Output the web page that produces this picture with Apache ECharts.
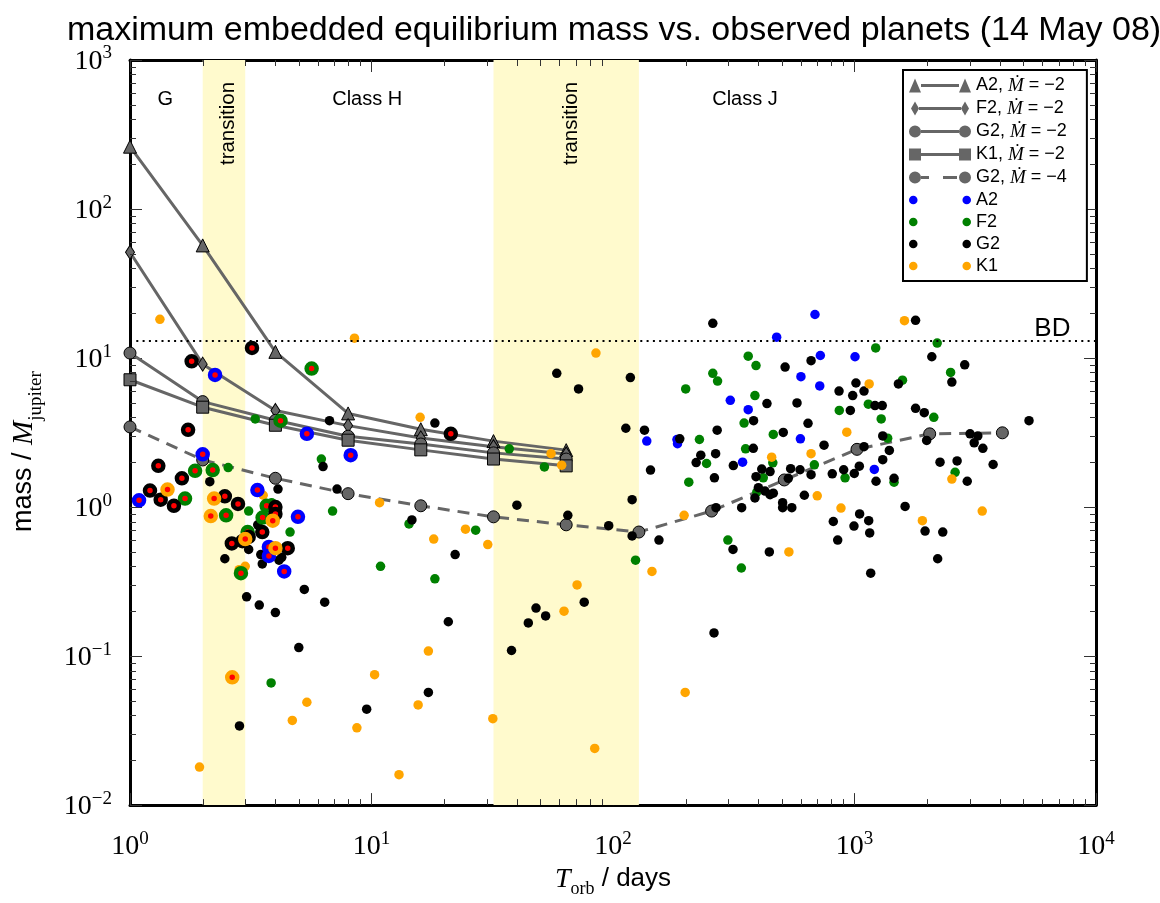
<!DOCTYPE html>
<html>
<head>
<meta charset="utf-8">
<title>maximum embedded equilibrium mass vs. observed planets</title>
<script src="https://cdn.jsdelivr.net/npm/echarts@6/dist/echarts.min.js"></script>
<style>
html, body { margin: 0; padding: 0; background: #fff; }
#chart { width: 1160px; height: 903px; }
</style>
</head>
<body>
<div id="chart"></div>
<script>
// model curves: orbital period (days) and maximum embedded mass (M_jup)
var modelT = [1, 2, 4, 8, 16, 32, 64];
var a2Model = [262, 57, 11.0, 4.25, 3.33, 2.77, 2.41];
var f2Model = [51.3, 9.1, 4.45, 3.52, 2.91, 2.54, 2.27];
var g2Model = [10.8, 5.1, 3.82, 2.99, 2.65, 2.31, 2.10];
var k1Model = [7.15, 4.68, 3.54, 2.81, 2.42, 2.10, 1.89];
var g2LowT = [1, 2, 4, 8, 16, 32, 64, 128, 256, 512, 1024, 2048, 4096];
var g2LowModel = [3.45, 2.07, 1.56, 1.23, 1.02, 0.86, 0.76, 0.68, 0.94, 1.52, 2.44, 3.10, 3.15];

// observed planets [period, mass]
var a2Planets = [[138, 2.77], [184, 2.84], [185, 2.66], [686, 19.6], [476, 13.8], [722, 10.4], [1005, 10.2],
  [600, 7.5], [718, 6.5], [306, 5.2], [363, 4.5], [597, 2.87], [344, 2.0], [1208, 1.79]];
var f2Planets = [[3.3, 3.9], [6.2, 2.1], [2.55, 1.84], [3.1, 0.94], [4.6, 0.68], [10.9, 0.40], [6.9, 0.94],
  [3.86, 1.07], [3.84, 0.066], [37.2, 2.46], [52, 1.86], [14.3, 0.77], [27, 0.70], [124, 0.44], [18.3, 0.33],
  [2200, 12.6], [1224, 11.7], [363, 10.3], [391, 8.9], [259, 7.9], [271, 7.0], [2500, 8.0], [1580, 7.1],
  [200, 6.2], [387, 5.6], [865, 4.45], [1141, 4.9], [1290, 3.9], [2130, 4.0], [349, 3.66], [228, 2.84],
  [461, 3.07], [1372, 2.9], [244, 1.96], [206, 1.47], [459, 1.98], [682, 1.92], [419, 1.57], [914, 1.57],
  [1458, 1.47], [2610, 1.71], [394, 1.26], [299, 0.60], [340, 0.39], [354, 2.46]];
var g2Planets = [[6.7, 3.8], [6.3, 1.87], [2.14, 1.48], [4.1, 1.32], [7.2, 1.32], [3.38, 0.76], [3.1, 0.52],
  [3.48, 0.48], [3.53, 0.415], [4.14, 0.44], [4.25, 0.46], [2.47, 0.45], [3.04, 0.25], [3.43, 0.22],
  [4.0, 0.196], [5.27, 0.28], [6.4, 0.23], [20.8, 0.17], [5.0, 0.114], [17.2, 0.057], [9.55, 0.044],
  [2.84, 0.034], [44.6, 0.167], [52.6, 0.186], [38, 0.109], [262, 0.143], [58.5, 7.9], [72, 6.2], [118, 7.4],
  [18.3, 3.66], [113, 3.38], [135, 3.28], [143, 1.77], [120, 1.12], [40, 1.03], [65, 0.88], [96, 0.75],
  [120, 0.64], [155, 0.60], [14.7, 0.82], [22.2, 0.48], [76, 0.23], [48, 0.21],
  [259, 17.1], [1790, 17.9], [2090, 10.2], [661, 9.6], [516, 8.7], [2860, 9.0], [2530, 6.9], [1520, 6.7],
  [1014, 6.8], [863, 6.0], [1095, 6.0], [983, 5.6], [434, 4.95], [578, 5.0], [961, 4.45], [1216, 4.8],
  [1303, 4.8], [1790, 4.6], [1945, 4.3], [5280, 3.8], [382, 3.8], [642, 3.65], [189, 2.87], [270, 3.28],
  [507, 3.17], [1309, 3.0], [3010, 3.1], [3240, 3.0], [3130, 2.7], [3400, 2.48], [1990, 2.8], [1095, 2.54],
  [748, 2.6], [1394, 2.4], [315, 1.9], [266, 2.28], [231, 2.23], [221, 1.99], [263, 1.57], [381, 2.48],
  [413, 1.8], [391, 1.6], [447, 1.73], [544, 1.81], [595, 1.78], [661, 1.65], [809, 1.67], [902, 1.78],
  [998, 1.68], [1047, 1.88], [1309, 2.08], [1228, 1.49], [1458, 1.56], [2260, 2.0], [2660, 2.04],
  [2930, 1.49], [3750, 1.93], [400, 1.35], [426, 1.28], [447, 1.21], [461, 1.24], [387, 1.15], [532, 1.56],
  [620, 1.2], [504, 1.07], [504, 0.99], [550, 0.99], [341, 0.99], [267, 0.99], [1620, 1.01], [1050, 0.90],
  [1145, 0.81], [817, 0.80], [995, 0.745], [1156, 0.67], [1960, 0.69], [2320, 0.68], [852, 0.60],
  [2210, 0.45], [1167, 0.36], [314, 0.52], [444, 0.50]];
var k1Planets = [[1.33, 18.2], [8.5, 13.6], [3.56, 1.2], [10.8, 1.07], [2.83, 0.38], [3.0, 0.40], [17.2, 0.108],
  [10.3, 0.075], [5.4, 0.049], [15.6, 0.047], [4.7, 0.037], [8.7, 0.033], [31.8, 0.038], [1.94, 0.018],
  [13, 0.016], [62.7, 0.20], [84, 0.024], [199, 0.057], [85, 10.8], [15.9, 4.0], [55.4, 2.28], [61.3, 1.91],
  [24.5, 0.71], [18.1, 0.61], [30.3, 0.56], [145, 0.37], [71, 0.30], [1610, 17.8], [1150, 6.7], [929, 3.18],
  [454, 2.16], [661, 2.28], [2530, 1.54], [701, 1.19], [197, 0.88], [879, 0.985], [3380, 0.94], [1910, 0.81],
  [535, 0.50]];

// transiting planets (red centre)
var a2Transit = [[2.25, 7.7], [5.4, 3.1], [8.2, 2.23], [2.0, 2.26], [1.09, 1.11], [3.37, 1.3], [4.96, 0.86],
  [3.76, 0.54], [3.76, 0.47], [4.35, 0.37]];
var f2Transit = [[5.65, 8.5], [4.2, 3.8], [1.86, 1.75], [2.2, 1.77], [1.69, 1.14], [2.5, 0.88], [3.68, 1.02],
  [3.54, 0.85], [3.07, 0.68], [2.88, 0.36]];
var g2Transit = [[3.2, 11.7], [1.8, 9.5], [1.74, 3.3], [1.31, 1.89], [1.64, 1.56], [1.21, 1.29], [1.34, 1.12],
  [1.52, 1.02], [2.47, 1.18], [2.8, 1.05], [4.0, 1.0], [4.0, 0.9], [3.53, 0.68], [3.1, 0.63], [2.92, 0.59],
  [2.64, 0.57], [4.5, 0.53], [21.3, 3.1]];
var k1Transit = [[1.43, 1.31], [2.23, 1.14], [2.16, 0.87], [3.9, 0.81], [3.0, 0.61], [4.0, 0.53], [2.65, 0.072]];

// regions and limits
var transitionBands = [[2, 3], [32, 128]];
var bdMass = 13;
var regionLabels = [
  {name: 'G', value: [1.4, 540]},
  {name: 'transition', value: [2.55, 375], rotate: 90},
  {name: 'Class H', value: [9.6, 540]},
  {name: 'transition', value: [67, 375], rotate: 90},
  {name: 'Class J', value: [352, 540]},
  {name: 'BD', value: [6600, 15.6], big: true}
];

// tick marks
var minorFactors = [2, 3, 4, 5, 6, 7, 8, 9];
var xDecades = [1, 10, 100, 1000];
var yDecades = [0.01, 0.1, 1, 10, 100];

var myChart = echarts.init(document.getElementById('chart'));

function pairs(xs, ys) {
  return xs.map(function(x, i) { return [x, ys[i]]; });
}

var minorTicks = [];
xDecades.forEach(function(d) {
  minorFactors.forEach(function(f) { minorTicks.push([f * d, 1, 0]); });
});
yDecades.forEach(function(d) {
  minorFactors.forEach(function(f) { minorTicks.push([1, f * d, 1]); });
});

function renderMinor(params, api) {
  var cs = params.coordSys;
  var st = {stroke: '#333', lineWidth: 1};
  if (api.value(2) === 0) {
    var x = Math.round(api.coord([api.value(0), 1])[0]) + 0.5;
    return {type: 'group', children: [
      {type: 'line', shape: {x1: x, y1: cs.y + cs.height, x2: x, y2: cs.y + cs.height - 6}, style: st},
      {type: 'line', shape: {x1: x, y1: cs.y, x2: x, y2: cs.y + 6}, style: st}
    ]};
  }
  var y = Math.round(api.coord([1, api.value(1)])[1]) + 0.5;
  return {type: 'group', children: [
    {type: 'line', shape: {x1: cs.x, y1: y, x2: cs.x + 6, y2: y}, style: st},
    {type: 'line', shape: {x1: cs.x + cs.width, y1: y, x2: cs.x + cs.width - 6, y2: y}, style: st}
  ]};
}

function powLabel(v) {
  var e = Math.round(Math.log(v) / Math.LN10);
  return '{b|10}{s|' + (e < 0 ? '\u2212' + (-e) : e) + '}';
}
var powRich = {
  b: {fontFamily: 'Liberation Serif', fontSize: 28, color: '#000', lineHeight: 32, verticalAlign: 'bottom'},
  s: {fontFamily: 'Liberation Serif', fontSize: 19, color: '#000', lineHeight: 19, verticalAlign: 'top'}
};

var gray = '#666666';
var icons = {
  tri: 'path://M0,14L6,0L12,14Z M12,5.5L50,5.5L50,8.5L12,8.5Z M50,14L56,0L62,14Z',
  dia: 'path://M6,0L10,7L6,14L2,7Z M10,5.5L52,5.5L52,8.5L10,8.5Z M56,0L60,7L56,14L52,7Z',
  circ: 'path://M0,7A6,6,0,1,0,12,7A6,6,0,1,0,0,7Z M12,5.5L50,5.5L50,8.5L12,8.5Z M50,7A6,6,0,1,0,62,7A6,6,0,1,0,50,7Z',
  sq: 'path://M0,1L12,1L12,13L0,13Z M12,5.5L50,5.5L50,8.5L12,8.5Z M50,1L62,1L62,13L50,13Z',
  dash: 'path://M0,7A6,6,0,1,0,12,7A6,6,0,1,0,0,7Z M12,5.5L20,5.5L20,8.5L12,8.5Z M34,5.5L48,5.5L48,8.5L34,8.5Z M50,7A6,6,0,1,0,62,7A6,6,0,1,0,50,7Z',
  dot: 'path://M2,7A4,4,0,1,0,10,7A4,4,0,1,0,2,7Z M52,7A4,4,0,1,0,60,7A4,4,0,1,0,52,7Z'
};
var legendText = {
  'A2 -2': '{n|A2, }{i|\u1E40}{n| = \u22122}',
  'F2 -2': '{n|F2, }{i|\u1E40}{n| = \u22122}',
  'G2 -2': '{n|G2, }{i|\u1E40}{n| = \u22122}',
  'K1 -2': '{n|K1, }{i|\u1E40}{n| = \u22122}',
  'G2 -4': '{n|G2, }{i|\u1E40}{n| = \u22124}',
  'A2': '{n|A2}', 'F2': '{n|F2}', 'G2': '{n|G2}', 'K1': '{n|K1}'
};

function modelSeries(name, xs, ys, symbol, size, dashed) {
  return {
    name: name, type: 'line', data: pairs(xs, ys), color: gray, z: 3,
    symbol: symbol, symbolSize: size, showSymbol: true,
    lineStyle: {color: gray, width: 3, type: dashed ? [12, 8] : 'solid'},
    itemStyle: {color: gray, borderColor: '#000', borderWidth: 1}
  };
}
function dotSeries(name, data, color) {
  return {name: name, type: 'scatter', data: data, color: color, z: 4,
    symbolSize: 9.5, itemStyle: {color: color, opacity: 1}};
}
function transitSeries(name, data, color) {
  return {name: name, type: 'scatter', data: data, z: 5,
    symbolSize: 10, itemStyle: {color: '#ff0000', borderColor: color, borderWidth: 4.5, opacity: 1}};
}

var option = {
  backgroundColor: '#fff',
  animation: false,
  title: {
    text: 'maximum embedded equilibrium mass vs. observed planets (14 May 08)',
    left: 62, top: 9,
    textStyle: {fontFamily: 'Liberation Sans', fontSize: 34, fontWeight: 'normal', color: '#000'}
  },
  grid: {left: 130, top: 60, width: 966, height: 753},
  legend: {
    orient: 'vertical', left: 903, top: 70,
    padding: [6, 20, 6, 6], itemGap: 4, itemWidth: 62, itemHeight: 14,
    backgroundColor: '#fff', borderColor: '#000', borderWidth: 2, borderRadius: 0,
    itemStyle: {borderWidth: 0},
    data: [
      {name: 'A2 -2', icon: icons.tri}, {name: 'F2 -2', icon: icons.dia},
      {name: 'G2 -2', icon: icons.circ}, {name: 'K1 -2', icon: icons.sq},
      {name: 'G2 -4', icon: icons.dash},
      {name: 'A2', icon: icons.dot}, {name: 'F2', icon: icons.dot},
      {name: 'G2', icon: icons.dot}, {name: 'K1', icon: icons.dot}
    ],
    formatter: function(name) { return legendText[name]; },
    textStyle: {
      rich: {
        n: {fontFamily: 'Liberation Sans', fontSize: 18, lineHeight: 18, color: '#000'},
        i: {fontFamily: 'Liberation Serif, DejaVu Serif', fontStyle: 'italic', fontSize: 19, lineHeight: 18, color: '#000'}
      }
    }
  },
  xAxis: [{
    type: 'log', logBase: 10, min: 1, max: 10000, position: 'bottom',
    axisLine: {show: true, onZero: false, lineStyle: {color: '#000', width: 3}},
    axisTick: {inside: true, length: 12, lineStyle: {color: '#333', width: 1}},
    axisLabel: {formatter: powLabel, margin: 24, rich: powRich},
    splitLine: {show: false},
    name: '{i|T}{sub|orb}{n| / days}', nameLocation: 'middle', nameGap: 60,
    nameTextStyle: {rich: {
      i: {fontFamily: 'Liberation Serif', fontStyle: 'italic', fontSize: 28, color: '#000', lineHeight: 30, verticalAlign: 'top'},
      sub: {fontFamily: 'Liberation Serif', fontSize: 18, color: '#000', lineHeight: 32, verticalAlign: 'bottom'},
      n: {fontFamily: 'Liberation Sans', fontSize: 26, color: '#000', lineHeight: 30, verticalAlign: 'top'}
    }}
  }, {
    type: 'log', logBase: 10, min: 1, max: 10000, position: 'top',
    axisLine: {show: true, onZero: false, lineStyle: {color: '#000', width: 3}},
    axisTick: {inside: true, length: 12, lineStyle: {color: '#333', width: 1}},
    axisLabel: {show: false}, splitLine: {show: false}
  }],
  yAxis: [{
    type: 'log', logBase: 10, min: 0.01, max: 1000, position: 'left',
    axisLine: {show: true, onZero: false, lineStyle: {color: '#000', width: 3}},
    axisTick: {inside: true, length: 12, lineStyle: {color: '#333', width: 1}},
    axisLabel: {formatter: powLabel, margin: 18, rich: powRich},
    splitLine: {show: false},
    name: '{n|mass / }{i|M}{sub|jupiter}', nameLocation: 'middle', nameGap: 84, nameRotate: 90,
    nameTextStyle: {padding: [0, 38, 0, 0], rich: {
      i: {fontFamily: 'Liberation Serif', fontStyle: 'italic', fontSize: 29, color: '#000', lineHeight: 30, verticalAlign: 'top'},
      sub: {fontFamily: 'Liberation Serif', fontSize: 19, color: '#000', lineHeight: 36, verticalAlign: 'bottom'},
      n: {fontFamily: 'Liberation Sans', fontSize: 27, color: '#000', lineHeight: 30, verticalAlign: 'top'}
    }}
  }, {
    type: 'log', logBase: 10, min: 0.01, max: 1000, position: 'right',
    axisLine: {show: true, onZero: false, lineStyle: {color: '#000', width: 3}},
    axisTick: {inside: true, length: 12, lineStyle: {color: '#333', width: 1}},
    axisLabel: {show: false}, splitLine: {show: false}
  }],
  series: [
    {
      name: 'bands', type: 'line', data: [], z: 1, silent: true,
      markArea: {
        silent: true,
        itemStyle: {color: '#fffacd'},
        data: transitionBands.map(function(b) { return [{xAxis: b[0]}, {xAxis: b[1]}]; })
      },
      markLine: {
        silent: true, symbol: 'none', label: {show: false},
        lineStyle: {color: '#000', width: 2.2, type: [2, 4.3]},
        data: [{yAxis: bdMass}]
      }
    },
    modelSeries('A2 -2', modelT, a2Model, 'triangle', 13, false),
    modelSeries('F2 -2', modelT, f2Model, 'diamond', [9, 14], false),
    modelSeries('G2 -2', modelT, g2Model, 'circle', 12, false),
    modelSeries('K1 -2', modelT, k1Model, 'rect', 12, false),
    modelSeries('G2 -4', g2LowT, g2LowModel, 'circle', 12, true),
    dotSeries('A2', a2Planets, '#0000ff'),
    dotSeries('F2', f2Planets, '#008000'),
    dotSeries('G2', g2Planets, '#000000'),
    dotSeries('K1', k1Planets, '#ffa500'),
    transitSeries('A2 transit', a2Transit, '#0000ff'),
    transitSeries('F2 transit', f2Transit, '#008000'),
    transitSeries('G2 transit', g2Transit, '#000000'),
    transitSeries('K1 transit', k1Transit, '#ffa500'),
    {
      name: 'labels', type: 'scatter', symbolSize: 0, z: 6, silent: true,
      itemStyle: {opacity: 1},
      data: regionLabels.map(function(r) {
        return {
          name: r.name, value: r.value,
          label: {
            show: true, position: 'inside', formatter: '{b}', rotate: r.rotate || 0, opacity: 1,
            fontFamily: 'Liberation Sans', fontSize: r.big ? 26 : (r.rotate ? 20.5 : 20), color: '#000'
          }
        };
      })
    },
    {
      name: 'minor ticks', type: 'custom', renderItem: renderMinor, data: minorTicks,
      encode: {x: 0, y: 1}, z: 20, silent: true
    }
  ]
};
myChart.setOption(option);
</script>
</body>
</html>
